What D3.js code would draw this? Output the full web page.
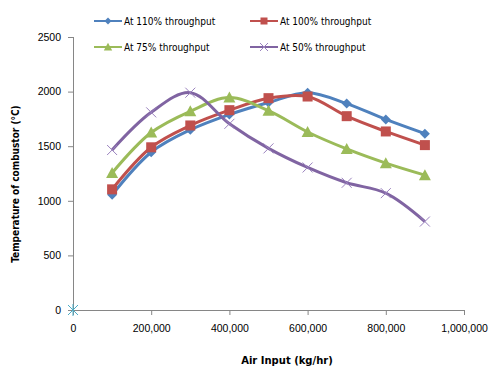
<!DOCTYPE html>
<html lang="en">
<head>
    <meta charset="UTF-8">
    <script src="https://d3js.org/d3.v7.min.js"></script>
    <title>Temperature of combustor vs air input</title>
    <style>
        body { margin: 0; background: #fff; }
        svg { font-family: "DejaVu Sans", sans-serif; }
        .tick text { font-size: 10.5px; fill: #000; }
        .legend text { font-family: "DejaVu Sans Condensed", "DejaVu Sans", sans-serif; font-size: 10px; }
        .axis-title { font-weight: bold; font-size: 10px; }
    </style>
</head>
<body>
<div id="chart"></div>
<script>
    const width = 495;
    const height = 373;
    const margin = { top: 37, right: 31, bottom: 63, left: 73 };

    // données
    const airInput = [100000, 200000, 300000, 400000, 500000, 600000, 700000, 800000, 900000];
    const seriesNames = ["At 110% throughput", "At 100% throughput", "At 75% throughput", "At 50% throughput"];
    const temp110 = [1055, 1445, 1650, 1790, 1900, 1990, 1890, 1745, 1615];
    const temp100 = [1105, 1490, 1690, 1830, 1940, 1955, 1775, 1635, 1510];
    const temp75 = [1255, 1625, 1820, 1945, 1825, 1630, 1475, 1345, 1235];
    const temp50 = [1465, 1810, 1990, 1705, 1480, 1305, 1165, 1070, 810];
    const xTicks = [0, 200000, 400000, 600000, 800000, 1000000];
    const yTicks = [0, 500, 1000, 1500, 2000, 2500];
    const couleurs = ["#4F81BD", "#C0504D", "#9BBB59", "#8064A2"];
    const markers = ["diamond", "square", "triangle", "cross"];

    const svg = d3.select("#chart")
        .append("svg")
        .attr("width", width)
        .attr("height", height);

    const x = d3.scaleLinear()
        .domain([0, 1000000])
        .range([margin.left, width - margin.right]);

    const y = d3.scaleLinear()
        .domain([0, 2500])
        .range([height - margin.bottom, margin.top]);

    // Axes
    const xAxis = svg.append("g")
        .attr("transform", `translate(0,${y(0)})`)
        .call(d3.axisBottom(x).tickValues(xTicks).tickSizeOuter(0).tickSize(5).tickPadding(10)
            .tickFormat(d3.format(",")));
    const yAxis = svg.append("g")
        .attr("transform", `translate(${x(0)},0)`)
        .call(d3.axisLeft(y).tickValues(yTicks).tickSizeOuter(0).tickSize(5).tickPadding(7)
            .tickFormat(d3.format("d")));
    svg.selectAll(".domain, .tick line").attr("stroke", "#868686");
    xAxis.select(".domain").attr("d", `M${x(0)},0.5H${x(1000000)}`);
    yAxis.select(".domain").attr("d", `M0.5,${y(0)}V${y(2500)}`);

    svg.append("text")
        .attr("class", "axis-title")
        .attr("x", 287)
        .attr("y", 364)
        .attr("text-anchor", "middle")
        .text("Air Input  (kg/hr)");

    svg.append("text")
        .attr("class", "axis-title")
        .attr("transform", "translate(19,184) rotate(-90)")
        .attr("text-anchor", "middle")
        .style("font-family", "'DejaVu Sans Condensed', 'DejaVu Sans', sans-serif")
        .text("Temperature of combustor  (°C)");

    const line = d3.line()
        .x(d => x(d[0]))
        .y(d => y(d[1]))
        .curve(d3.curveCatmullRom.alpha(0.5));

    function drawMarker(g, type, color, cx, cy) {
        if (type === "diamond") {
            g.append("path").attr("d", `M${cx},${cy - 5}L${cx + 5},${cy}L${cx},${cy + 5}L${cx - 5},${cy}Z`).attr("fill", color);
        } else if (type === "square") {
            g.append("rect").attr("x", cx - 5).attr("y", cy - 5).attr("width", 10).attr("height", 10).attr("fill", color);
        } else if (type === "triangle") {
            g.append("path").attr("d", `M${cx},${cy - 6}L${cx + 6},${cy + 5}L${cx - 6},${cy + 5}Z`).attr("fill", color);
        } else {
            g.append("path").attr("d", `M${cx - 5},${cy - 5}L${cx + 5},${cy + 5}M${cx + 5},${cy - 5}L${cx - 5},${cy + 5}`)
                .attr("stroke", "#9A82BE").attr("stroke-width", 1);
        }
    }

    const allSeries = [temp110, temp100, temp75, temp50];
    allSeries.forEach((vals, i) => {
        const pts = airInput.map((a, j) => [a, vals[j]]);
        svg.append("path")
            .datum(pts)
            .attr("fill", "none")
            .attr("stroke", couleurs[i])
            .attr("stroke-width", 3)
            .attr("d", line);
        const gm = svg.append("g");
        pts.forEach(p => drawMarker(gm, markers[i], couleurs[i], x(p[0]), y(p[1])));
    });

    // point (0,0) en étoile cyan
    const sx = x(0), sy = y(0);
    svg.append("path")
        .attr("d", `M${sx - 5},${sy - 5}L${sx + 5},${sy + 5}M${sx + 5},${sy - 5}L${sx - 5},${sy + 5}M${sx},${sy - 6}V${sy + 6}`)
        .attr("stroke", "#4BACC6").attr("stroke-width", 1);

    // Légende
    const legendPos = [[94, 21], [250, 21], [94, 47], [250, 47]];
    const legend = svg.append("g").attr("class", "legend");
    seriesNames.forEach((name, i) => {
        const [lx, ly] = legendPos[i];
        legend.append("line")
            .attr("x1", lx).attr("x2", lx + 28)
            .attr("y1", ly).attr("y2", ly)
            .attr("stroke", couleurs[i]).attr("stroke-width", 2);
        const gm = legend.append("g");
        if (markers[i] === "cross") {
            gm.append("path").attr("d", `M${lx + 10},${ly - 4}L${lx + 18},${ly + 4}M${lx + 18},${ly - 4}L${lx + 10},${ly + 4}`)
                .attr("stroke", "#9A82BE");
        } else {
            const s = 0.7;
            const g2 = gm.append("g").attr("transform", `translate(${lx + 14},${ly}) scale(${s})`);
            drawMarker(g2, markers[i], couleurs[i], 0, 0);
        }
        legend.append("text")
            .attr("x", lx + 30)
            .attr("y", ly + 4)
            .text(name);
    });
</script>
</body>
</html>
